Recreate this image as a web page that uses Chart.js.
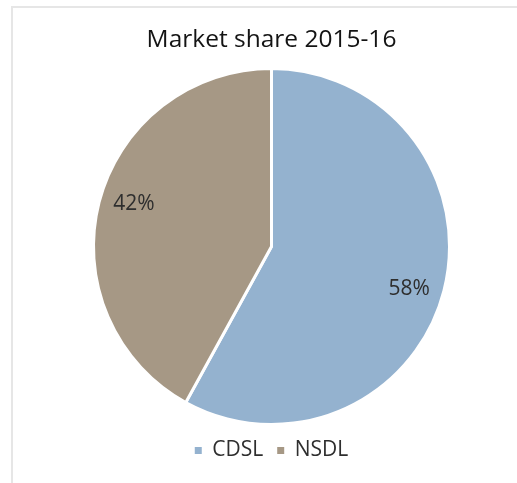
<!DOCTYPE html>
<html>
<head>
<meta charset="utf-8">
<script src="https://cdn.jsdelivr.net/npm/chart.js@4/dist/chart.umd.min.js"></script>
<style>
  html, body { margin: 0; padding: 0; background: #fff; }
  #frame { position: absolute; left: 11px; top: 6px; width: 520px; height: 490px;
           border-left: 2px solid #e6e6e6; border-top: 2px solid #e6e6e6; box-sizing: border-box; }
  #wrap { position: absolute; left: 0; top: 0; width: 517px; height: 483px; }
</style>
</head>
<body>
<div id="frame"></div>
<div id="wrap"><canvas id="c" width="517" height="483"></canvas></div>
<script>
const categories = ['CDSL', 'NSDL'];
const shares = [58, 42];
const sliceColors = ['#94b2cf', '#a69885'];
const chartTitle = 'Market share 2015-16';

const FONT = '"Open Sans", "Noto Sans", sans-serif';

const sliceLabels = {
  id: 'sliceLabels',
  afterDatasetsDraw(chart) {
    const ctx = chart.ctx;
    const meta = chart.getDatasetMeta(0);
    const data = chart.data.datasets[0].data;
    const total = data.reduce((a, b) => a + b, 0);
    ctx.save();
    ctx.font = '21px ' + FONT;
    ctx.fillStyle = '#2e2e2e';
    ctx.textAlign = 'center';
    ctx.textBaseline = 'middle';
    meta.data.forEach((arc, i) => {
      const p = arc.getProps(['x', 'y', 'startAngle', 'endAngle', 'outerRadius'], true);
      const mid = (p.startAngle + p.endAngle) / 2 + 0.05;
      const r = p.outerRadius * 0.81;
      const txt = Math.round(data[i] / total * 100) + '%';
      ctx.fillText(txt, p.x + Math.cos(mid) * r, p.y + Math.sin(mid) * r);
    });
    ctx.restore();
  }
};

new Chart(document.getElementById('c'), {
  type: 'pie',
  data: {
    labels: categories,
    datasets: [{
      data: shares,
      backgroundColor: sliceColors,
      borderColor: '#ffffff',
      borderWidth: 3
    }]
  },
  options: {
    responsive: false,
    animation: false,
    layout: { padding: { left: 26, right: 0, top: 0, bottom: 12 } },
    plugins: {
      title: {
        display: true,
        text: chartTitle,
        color: '#141414',
        font: { family: FONT, size: 24.5, weight: 'normal', lineHeight: 1.2 },
        padding: { top: 25.3, bottom: 12.3 }
      },
      legend: {
        position: 'bottom',
        labels: {
          color: '#2e2e2e',
          font: { family: FONT, size: 21 },
          boxWidth: 7,
          boxHeight: 7,
          padding: 14,
          generateLabels: (chart) =>
            Chart.overrides.pie.plugins.legend.labels.generateLabels(chart)
              .map(l => Object.assign(l, { lineWidth: 0, strokeStyle: 'rgba(0,0,0,0)' }))
        }
      },
      tooltip: { enabled: false }
    }
  },
  plugins: [sliceLabels]
});
</script>
</body>
</html>
